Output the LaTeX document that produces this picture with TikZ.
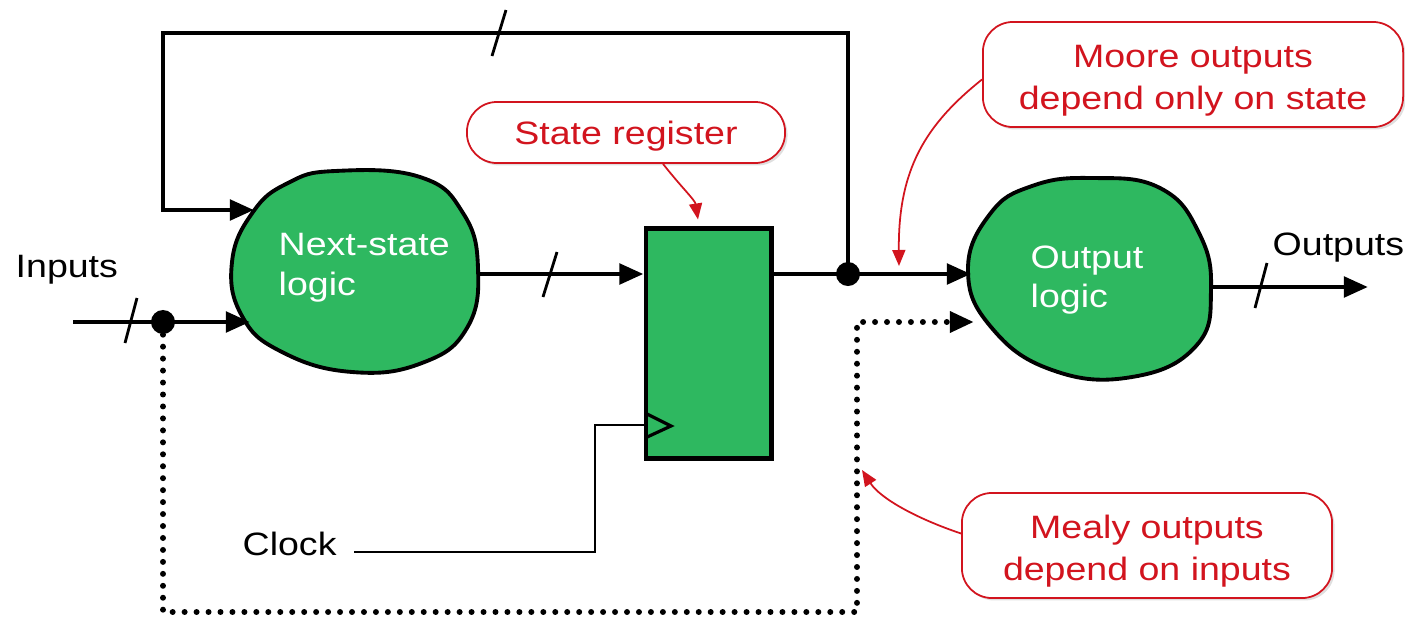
\documentclass[tikz,border=0pt]{standalone}
\usepackage{fontspec}
\setmainfont{Liberation Sans}[FakeStretch=1.16]
\usetikzlibrary{arrows.meta,shadows}
\definecolor{blobgreen}{RGB}{46,184,96}
\definecolor{callred}{RGB}{210,20,30}
\begin{document}
\begin{tikzpicture}[x=0.01cm, y=-0.01cm,
  txt/.style={font=\fontsize{9.2pt}{12pt}\selectfont, inner sep=0pt},
  blobtext/.style={txt, text=white},
  wire/.style={line width=1.4pt},
  arr/.style={-{Triangle[length=0.24cm,width=0.2cm]}},
  thinwire/.style={line width=0.8pt},
  slashmark/.style={line width=0.8pt},
  dotwire/.style={line width=1.7pt, line cap=round, dash pattern=on 0pt off 3.4pt},
  blob/.style={line width=1.1pt, fill=blobgreen},
  junction/.style={circle, fill=black, inner sep=0pt, minimum size=0.24cm},
  callout/.style={draw=callred, line width=0.5pt, fill=white, text=callred, align=center,
    inner sep=0pt, drop shadow={shadow xshift=0.7pt, shadow yshift=-0.7pt, opacity=0.25}},
  redarr/.style={draw=callred, line width=0.5pt, -{Triangle[length=0.16cm,width=0.13cm]}}
]
\useasboundingbox (0,0) rectangle (1405,624);

% blobs
\draw[blob] plot[smooth cycle, tension=0.75] coordinates {(335,171) (420,177) (463,213) (478,268) (467,328) (422,363) (352,372) (282,352) (242,316) (232,262) (253,212) (288,183)};
\draw[blob] plot[smooth cycle, tension=0.75] coordinates {(1092,178) (1160,188) (1199,233) (1211,290) (1196,346) (1132,377) (1052,370) (991,327) (968,270) (990,214) (1032,186)};

\node[blobtext, anchor=base west] (ns1) at (278,255) {Next-state};
\node[blobtext, anchor=base west] (ns2) at (278,295) {logic};
\node[blobtext, anchor=base west] (ol1) at (1030,268) {Output};
\node[blobtext, anchor=base west] (ol2) at (1030,307) {logic};

% register
\node[draw, line width=1.4pt, fill=blobgreen, minimum width=1.25cm, minimum height=2.29cm, inner sep=0pt] (reg) at (708.5,343.5) {};
\draw[line width=0.9pt] (645,413) -- (671,426) -- (645,438);

% labels
\node[txt, anchor=base west] (inputs) at (15,277) {Inputs};
\node[txt, anchor=base west] (outputs) at (1272,255) {Outputs};
\node[txt, anchor=base west] (clock) at (242,555) {Clock};

% coordinates
\coordinate (inStart) at (73,322);
\coordinate (nsIn1) at (254,210);
\coordinate (nsIn2) at (250,322);
\coordinate (nsOut) at (480,274);
\coordinate (fbTR) at (848,33);
\coordinate (fbTL) at (163,33);
\coordinate (fbBL) at (163,210);
\coordinate (olIn1) at (971,274);
\coordinate (olIn2) at (974,322);
\coordinate (olOut) at (1212,287);
\coordinate (outEnd) at (1368,287);
\coordinate (clkStart) at (354,552);
\coordinate (clkC1) at (595,552);
\coordinate (clkC2) at (595,425);
\coordinate (dBL) at (163,612);
\coordinate (dBR) at (857,612);
\coordinate (dTR) at (857,322);

\node[junction] (dot1) at (163,322) {};
\node[junction] (dot2) at (848,274) {};

% wires
\draw[wire, arr] (dot2.center) -- (fbTR) -- (fbTL) -- (fbBL) -- (nsIn1);
\draw[wire, arr] (inStart) -- (nsIn2);
\draw[wire, arr] (nsOut) -- (nsOut -| reg.west);
\draw[wire] (reg.east |- dot2) -- (dot2.center);
\draw[wire, arr] (dot2.center) -- (olIn1);
\draw[wire, arr] (olOut) -- (outEnd);
\draw[thinwire] (clkStart) -- (clkC1) -- (clkC2) -- (clkC2 -| reg.west);
\draw[dotwire, arr] (dot1.south) -- (dBL) -- (dBR) -- (dTR) -- (olIn2);

% bus slashes
\draw[slashmark] (125,343) -- (137,298);
\draw[slashmark] (492,56) -- (506,10);
\draw[slashmark] (543,297) -- (557,252);
\draw[slashmark] (1255,308) -- (1267,263);

% callouts
\node[callout, txt, minimum width=3.18cm, minimum height=0.61cm, rounded corners=0.3cm] (sr) at (626,132.5) {\rule{0pt}{8.6pt}State register};
\node[callout, txt, minimum width=4.2cm, minimum height=1.05cm, rounded corners=0.3cm] (moore) at (1193,74.5) {\rule{0pt}{10pt}Moore outputs\\depend only on state};
\node[callout, txt, minimum width=3.7cm, minimum height=1.05cm, rounded corners=0.3cm] (mealy) at (1147,545.5) {\rule{0pt}{10pt}Mealy outputs\\depend on inputs};

\draw[redarr] ([xshift=0.37cm]sr.south) .. controls (682,188) and (695,200) .. ([xshift=-0.105cm,yshift=0.07cm]reg.north);
\draw[redarr] ([yshift=-0.05cm]moore.west) .. controls (925,125) and (898,170) .. (899,266);
\draw[redarr] ([yshift=0.12cm]mealy.west) .. controls (915,518) and (880,498) .. (862,470);
\end{tikzpicture}
\end{document}
